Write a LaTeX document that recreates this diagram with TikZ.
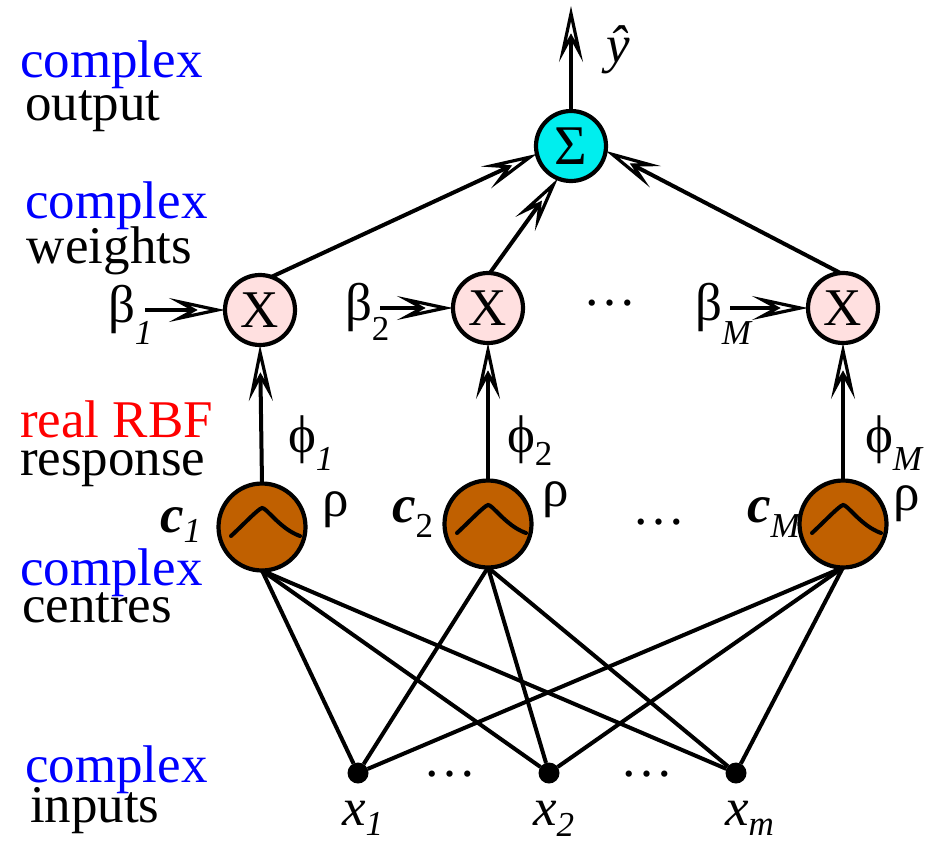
\documentclass[tikz,border=0pt]{standalone}
\usepackage{fontspec}
\setmainfont{Liberation Serif}
\usetikzlibrary{arrows.meta}
\definecolor{sumfill}{RGB}{0,238,238}
\definecolor{mulfill}{RGB}{255,224,224}
\definecolor{rbffill}{RGB}{192,96,0}
\definecolor{hlblue}{RGB}{0,0,255}
\definecolor{hlred}{RGB}{255,0,0}
% lowered subscript: optional drop, then the index
\newcommand\lsub[2][14pt]{\raisebox{-#1}{\fontsize{35}{35}\selectfont #2}}
\tikzset{
  openhead/.tip={Stealth[open, length=56pt, width=24pt, inset=22pt, line width=3.2pt]}
}
\begin{document}
\begin{tikzpicture}[x=1pt,y=-1pt,
  every node/.style={font=\fontsize{53}{60}\selectfont, inner sep=0pt, outer sep=0pt},
  lbl/.style={anchor=base west},
  conn/.style={line width=4pt},
  arr/.style={conn, -openhead},
  sumnode/.style={circle, draw, line width=4.2pt, fill=sumfill, minimum size=70pt, font=\fontsize{56}{60}\selectfont},
  mulnode/.style={circle, draw, line width=4.2pt, fill=mulfill, minimum size=70pt},
  rbfnode/.style={circle, draw, line width=4.2pt, fill=rbffill, minimum size=87pt},
  innode/.style={circle, fill=black, minimum size=21pt},
  bell/.style={line width=4pt, line cap=round}
]
\useasboundingbox (0,0) rectangle (934,841);

% layer annotations on the left
\node[lbl, text=hlblue] (t1) at (20,77) {complex};
\node[lbl] (t2) at (25,120) {output};
\node[lbl, text=hlblue] (t3) at (25,218) {complex};
\node[lbl] (t4) at (27,263) {weights};
\node[lbl, text=hlred] (t5) at (20,437) {real RBF};
\node[lbl] (t6) at (20,475) {response};
\node[lbl, text=hlblue] (t7) at (20,585) {complex};
\node[lbl] (t8) at (22,622) {centres};
\node[lbl, text=hlblue] (t9) at (25,782) {complex};
\node[lbl] (t10) at (30,822) {inputs};

% summing output node
\node[sumnode] (S) at (571,146) {Σ};
\coordinate (yout) at (571,6);
\node[lbl] (yhat) at (606,62) {\textit{ŷ}};

% weight multipliers
\node[mulnode] (X1) at (260,310) {X};
\node[mulnode] (X2) at (488,308) {X};
\node[mulnode] (XM) at (843,308) {X};

% RBF units
\node[rbfnode] (c1) at (262,527) {};
\node[rbfnode] (c2) at (488,524) {};
\node[rbfnode] (cM) at (843,524) {};

% inputs
\node[innode] (x1) at (358,773) {};
\node[innode] (x2) at (549,773) {};
\node[innode] (xm) at (736,773) {};

% bell-shaped response drawn inside each RBF unit
\foreach \n in {c1,c2,cM}{
  \draw[bell] ([shift={(-31,9)}]\n.center) .. controls +(13,-12) and +(-4,1) .. ([shift={(0,-19)}]\n.center)
              .. controls +(4,-1) and +(-20,-7) .. ([shift={(38,9)}]\n.center);
}

% input to RBF connections
\foreach \c in {c1,c2,cM}{
  \foreach \x in {x1,x2,xm}{
    \draw[conn] (\c.south) -- (\x);
  }
}

% RBF responses to multipliers
\draw[arr] (c1.north) -- (X1.south);
\draw[arr] (c2.north) -- (X2.south);
\draw[arr] (cM.north) -- (XM.south);

% weights into multipliers
\coordinate (b1s) at (145,310);
\coordinate (b2s) at (380,308);
\coordinate (bMs) at (730,308);
\draw[arr] (b1s) -- (X1.west);
\draw[arr] (b2s) -- (X2.west);
\draw[arr] (bMs) -- (XM.west);

% multipliers to the sum, and the output
\draw[arr] (X1.71) -- (S.193);
\draw[arr] (X2.87) -- (S.248);
\draw[arr] (XM.94) -- (S.352);
\draw[arr] (S.north) -- (yout);

% weight labels
\node[lbl] (lb1) at (108,322) {β\lsub[22pt]{\textit{1}}};
\node[lbl] (lb2) at (345,320) {β\lsub[20pt]{2}};
\node[lbl] (lbM) at (695,320) {β\lsub[24pt]{\textit{M}}};

% response labels
\node[lbl] (lp1) at (288,452) {ϕ\lsub[18pt]{\textit{1}}};
\node[lbl] (lp2) at (507,452) {ϕ\lsub[13pt]{2}};
\node[lbl] (lpM) at (865,452) {ϕ\lsub[18pt]{\textit{M}}};

% width labels
\node[lbl] (r1) at (322,516) {ρ};
\node[lbl] (r2) at (542,506) {ρ};
\node[lbl] (rM) at (893,510) {ρ};

% centre labels
\node[lbl] (lc1) at (160,532) {\bfseries\itshape c\lsub[10pt]{\normalfont\itshape 1}};
\node[lbl] (lc2) at (392,522) {\bfseries\itshape c\lsub[15pt]{\normalfont 2}};
\node[lbl] (lcM) at (747,522) {\bfseries\itshape c\lsub[15pt]{\normalfont\itshape M}};

% input labels
\node[lbl] (lx1) at (342,825) {\textit{x}\lsub[10pt]{\textit{1}}};
\node[lbl] (lx2) at (533,825) {\textit{x}\lsub[11pt]{\textit{2}}};
\node[lbl] (lxm) at (725,825) {\textit{x}\lsub[10pt]{\textit{m}}};

% ellipses
\node (d1) at (610,303) {…};
\node (d2) at (659,522) {…};
\node (d3) at (450,774) {…};
\node (d4) at (647,774) {…};
\end{tikzpicture}
\end{document}
